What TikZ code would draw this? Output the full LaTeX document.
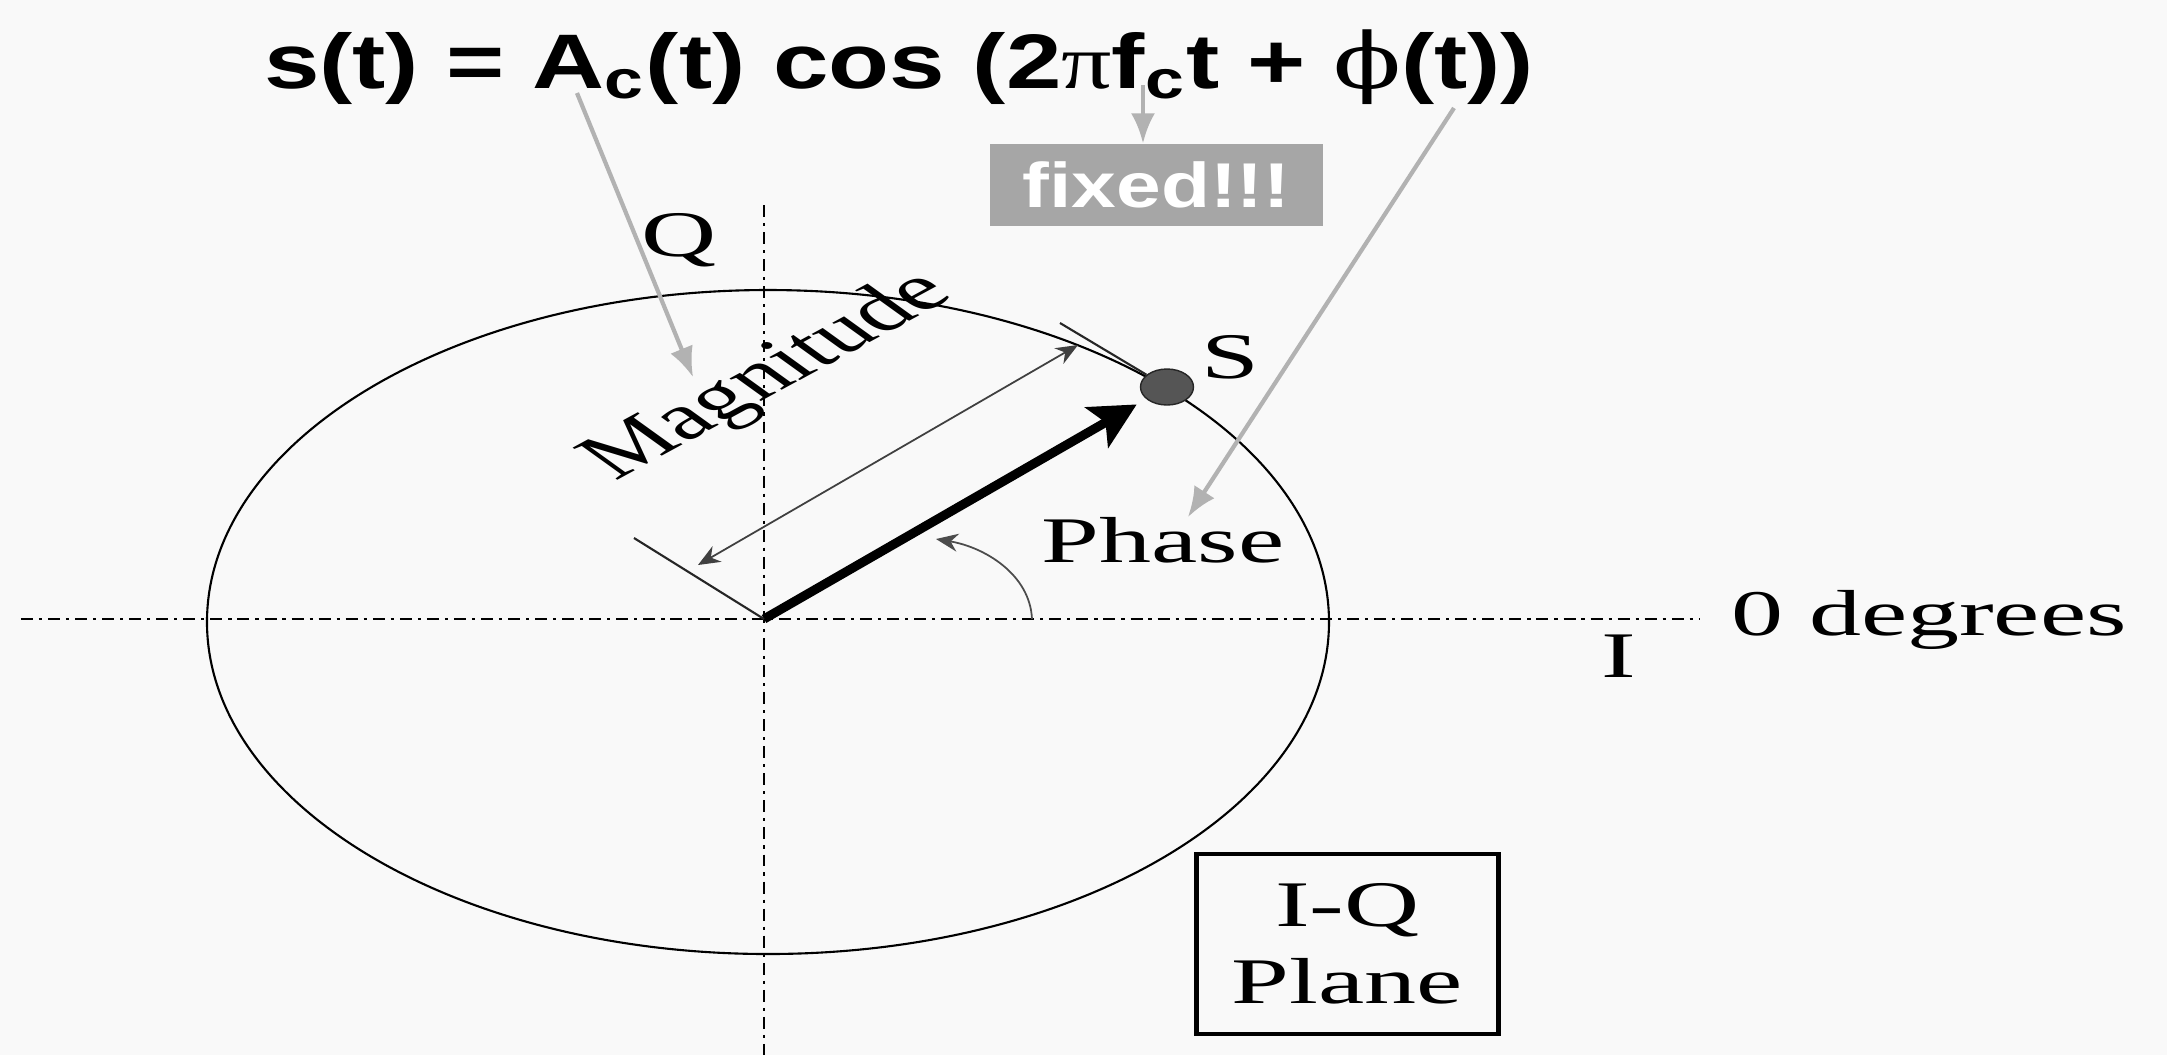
\documentclass[tikz,border=0pt]{standalone}
\usepackage{fontspec}
\setmainfont{Liberation Serif}
\newfontfamily\eqfont{Liberation Sans}
\newfontfamily\phifont{DejaVu Serif}
\usetikzlibrary{calc,arrows.meta,positioning,shapes}
\definecolor{pagegray}{RGB}{249, 249, 249}
\definecolor{pointergray}{RGB}{178, 178, 178}
\definecolor{boxgray}{RGB}{166, 166, 166}
\definecolor{dotgray}{RGB}{85, 85, 85}
\tikzset{
  axisline/.style={line width=0.8pt, dash pattern=on 3.4pt off 1.7pt on 0.9pt off 1.7pt},
  txt/.style={font=\fontsize{18.5}{22}\selectfont, xscale=1.6, inner sep=0pt},
  pointer/.style={draw=pointergray, line width=1.2pt, -{Latex[length=3mm, width=2.4mm]}},
  dimline/.style={draw=black!75, line width=0.5pt, {Stealth[length=2.2mm, width=1.8mm]}-{Stealth[length=2.2mm, width=1.8mm]}},
  extline/.style={draw=black!85, line width=0.6pt},
  eqbox/.style={font=\eqfont\bfseries\fontsize{22}{26}\selectfont, xscale=1.29, inner sep=0pt},
  fixedbox/.style={fill=boxgray, text=white, font=\eqfont\bfseries\fontsize{18}{22}\selectfont, xscale=1.27, minimum width=2.62cm, minimum height=0.82cm, inner sep=0pt},
  planebox/.style={draw, line width=1.4pt, align=center, font=\fontsize{18.5}{22}\selectfont, xscale=1.6, minimum width=1.89cm, minimum height=1.8cm, inner sep=0pt}
}

\begin{document}
\begin{tikzpicture}
  \fill [pagegray] (-7.64,-4.36) rectangle (14.03,6.19);
  \useasboundingbox (-7.64,-4.36) rectangle (14.03,6.19);

  % axes and circle of the plane
  \coordinate (o) at (0,0);
  \draw [axisline] (-7.43,0) -- (9.36,0);
  \draw [axisline] (0,4.14) -- (0,-4.36);
  \draw [line width=0.6pt] (0.04,-0.03) ellipse [x radius=5.61, y radius=3.32];

  \node [txt, anchor=base] (q) at (-0.85,3.63) {Q};
  \node [txt, anchor=base] (i) at (8.55,-0.58) {I};
  \node [txt, anchor=base] (deg) at (11.65,-0.16) {0 degrees};
  \node [txt, anchor=base] (phase) at (3.99,0.57) {Phase};
  \node [txt, anchor=base] (s) at (4.66,2.41) {S};

  % signal point and vector
  \node [draw=black!85, fill=dotgray, ellipse, minimum width=0.53cm, minimum height=0.36cm, inner sep=0pt] (dot) at (4.03,2.32) {};
  \coordinate (tip) at ($(o)!0.925!(dot)$);
  \draw [line width=2.6pt, -{Stealth[length=4.6mm, width=4.6mm, inset=1mm]}] (o) -- (tip);

  % magnitude dimension
  \coordinate (ext1) at (-1.30,0.81);
  \coordinate (ext2) at (2.96,2.96);
  \draw [extline] (o) -- (ext1);
  \draw [extline] (dot) -- (ext2);
  \coordinate (dimA) at (-0.66,0.54);
  \coordinate (dimB) at (3.14,2.74);
  \draw [dimline] (dimA) -- (dimB);
  \node [txt, rotate=41] (mag) at (0.05,2.42) {Magnitude};

  % phase angle
  \coordinate (arcA) at (2.68,0);
  \coordinate (arcB) at (1.72,0.80);
  \draw [draw=black!70, line width=0.5pt, -{Stealth[length=2.2mm, width=1.8mm]}] (arcA) .. controls (2.66,0.45) and (2.2,0.72) .. (arcB);

  % formula and pointers
  \node [eqbox, anchor=base] (eqn) at (1.35,5.31) {s(t) = A\textsubscript{c}(t) cos (2{\rmfamily\mdseries π}f\textsubscript{c}t + {\phifont\mdseries ϕ}(t))};
  \node [fixedbox] (fixed) at (3.925,4.34) {fixed!!!};
  \node [planebox] (plane) at (5.835,-3.25) {I-Q\\Plane};

  \coordinate (ampfoot) at (-1.87,5.26);
  \coordinate (magpt) at (-0.71,2.42);
  \coordinate (freqfoot) at (3.79,5.34);
  \coordinate (phifoot) at (6.90,5.11);
  \coordinate (phasept) at (4.24,1.02);
  \draw [pointer] (ampfoot) -- (magpt);
  \draw [pointer] (freqfoot) -- (freqfoot |- fixed.north);
  \draw [pointer] (phifoot) -- (phasept);
\end{tikzpicture}
\end{document}
